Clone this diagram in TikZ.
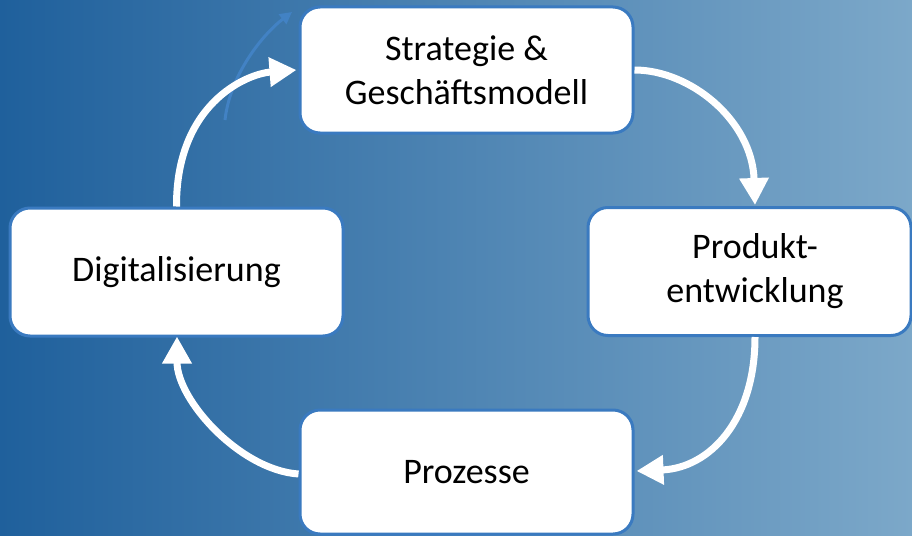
\documentclass[tikz,border=0pt]{standalone}
\usepackage{fontspec}
\setmainfont{Carlito}
\usetikzlibrary{arrows.meta}
\definecolor{bgleft}{RGB}{31,96,156}
\definecolor{bgright}{RGB}{124,168,201}
\definecolor{boxborder}{RGB}{58,122,192}
\definecolor{ghost}{RGB}{66,130,196}
\begin{document}
\begin{tikzpicture}[x=1pt,y=-1pt,
  cyclebox/.style={draw=boxborder, line width=3pt, fill=white, rounded corners=20pt,
    minimum width=333pt, minimum height=126pt, inner sep=0pt, align=center,
    font=\fontsize{36}{44}\selectfont},
  boxtext/.style={align=center, inner sep=0pt, font=\fontsize{36}{44}\selectfont},
  flow/.style={draw=white, line width=7pt, -{Triangle[length=27pt,width=28pt]}},
  ghostflow/.style={draw=ghost, line width=3pt, -{Triangle[length=12pt,width=12pt]}}]
\shade[left color=bgleft, right color=bgright] (0,0) rectangle (912,535);
\useasboundingbox (0,0) rectangle (912,535);
% ghost arrow
\coordinate (g1) at (225,120);
\coordinate (g2) at (292,12);
\draw[ghostflow] (g1) .. controls (230,75) and (262,35) .. (g2);
% boxes
\node[cyclebox] (strategie) at (466.5,70) {Strategie \&\\Geschäftsmodell};
\node[cyclebox, minimum height=128pt] (digital) at (176.5,272) {Digitalisierung};
\node[cyclebox, minimum width=323pt, minimum height=128pt] (produkt) at (749.5,271.5) {};
\node[boxtext] (produkttext) at (755,271) {Produkt-\\entwicklung};
\node[cyclebox, minimum height=124pt] (prozesse) at (466.5,472) {Prozesse};
% arrows
\draw[flow] (digital.north) .. controls (176,105) and (245,74) .. ([xshift=-2pt]strategie.west);
\draw[flow] (strategie.east) .. controls (690,70) and (752,120) .. ([xshift=5.5pt,yshift=1pt]produkt.north);
\draw[flow] ([xshift=5.5pt]produkt.south) .. controls (755,420) and (710,468) .. ([xshift=2pt,yshift=1pt]prozesse.east);
\draw[flow] ([yshift=-2pt]prozesse.west) .. controls (240,470) and (177,400) .. ([xshift=0.5pt,yshift=1pt]digital.south);
\end{tikzpicture}
\end{document}
